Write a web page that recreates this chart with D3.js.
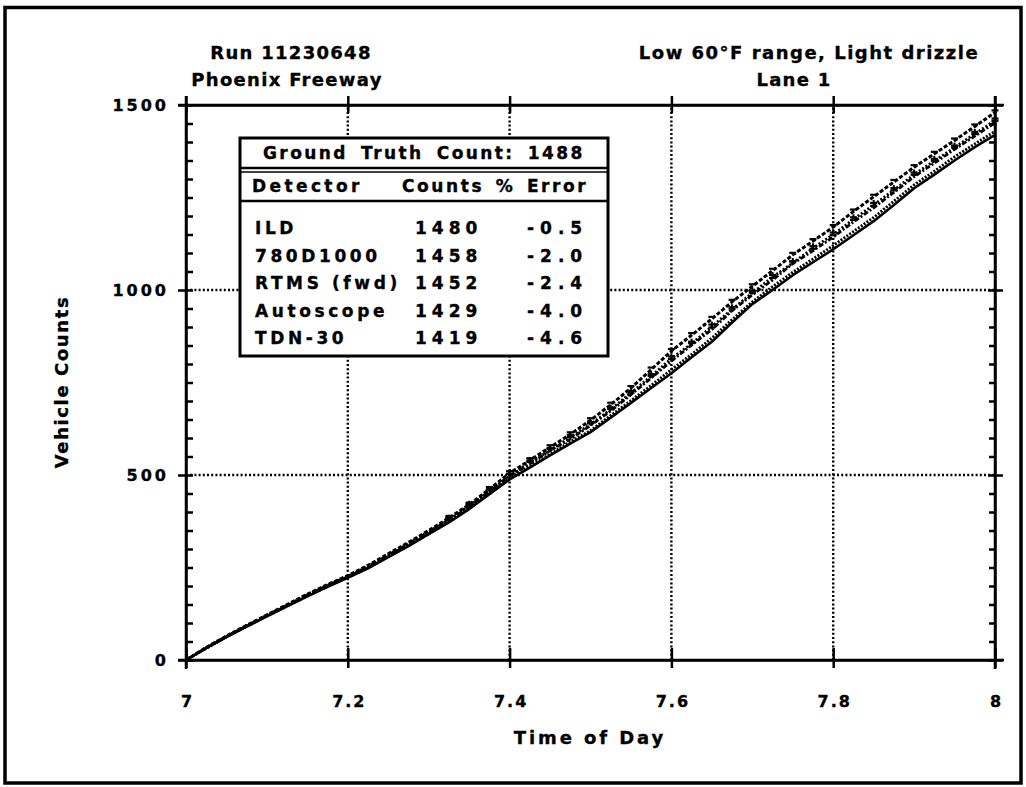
<!DOCTYPE html>
<html><head><meta charset="utf-8">
<script src="https://cdn.jsdelivr.net/npm/d3@7"></script>
<style>
html,body{margin:0;padding:0;background:#fff;}
svg{display:block;}
text{font-family:"DejaVu Sans",Verdana,sans-serif;font-weight:bold;fill:#000;stroke:#000;stroke-width:0.35px;}
</style></head>
<body>
<svg id="chart" width="1026" height="787"></svg>
<script>
// ---------- data ----------
const times = [7.000,7.025,7.050,7.075,7.100,7.125,7.150,7.175,7.200,7.225,7.250,7.275,7.300,7.325,7.350,7.375,7.400,7.425,7.450,7.475,7.500,7.525,7.550,7.575,7.600,7.625,7.650,7.675,7.700,7.725,7.750,7.775,7.800,7.825,7.850,7.875,7.900,7.925,7.950,7.975,8.000];
const ildCounts = [0,34,65,94,122,150,178,204,228,256,287,318,350,384,420,462,505,540,575,610,648,690,735,785,835,878,922,968,1010,1052,1095,1132,1170,1212,1252,1292,1332,1368,1404,1442,1480];
const d780Counts = [0,33,64,92,121,148,176,201,226,253,284,314,347,379,417,456,498,534,566,602,637,677,722,767,815,855,901,948,992,1035,1073,1113,1150,1191,1230,1270,1312,1349,1385,1422,1458];
const rtmsCounts = [0,33,63,93,120,147,175,202,225,252,282,313,345,379,414,455,497,530,566,597,634,673,717,762,808,851,893,944,987,1027,1071,1106,1143,1184,1222,1264,1306,1343,1380,1416,1452];
const autoscopeCounts = [0,31,63,91,119,146,173,199,224,249,279,310,341,374,410,449,491,523,556,590,620,661,701,742,785,826,870,920,968,1009,1048,1084,1120,1158,1196,1240,1284,1321,1360,1395,1429];
const tdnCounts = [0,32,62,90,118,145,172,198,222,248,278,308,340,372,408,448,488,520,553,585,616,655,695,735,775,818,860,912,962,1000,1040,1075,1110,1148,1186,1230,1275,1312,1350,1386,1419];

const detectors = ["ILD","780D1000","RTMS (fwd)","Autoscope","TDN-30"];
const finalCounts = [1480,1458,1452,1429,1419];
const pctErrors = ["-0.5","-2.0","-2.4","-4.0","-4.6"];
const groundTruth = 1488;

const xTicks = [7,7.2,7.4,7.6,7.8,8];
const xTickLabels = ["7","7.2","7.4","7.6","7.8","8"];
const yTicks = [0,500,1000,1500];
const yMinorTicks = [50,100,150,200,250,300,350,400,450,550,600,650,700,750,800,850,900,950,1050,1100,1150,1200,1250,1300,1350,1400,1450];
const titleLeft = ["Run 11230648","Phoenix Freeway"];
const titleRight = ["Low 60°F range, Light drizzle","Lane 1"];
const xTitle = "Time of Day";
const yTitle = "Vehicle Counts";

// ---------- drawing ----------
const svg = d3.select("#chart");
const L = 186, R = 995, T = 105, B = 660;
const x = d3.scaleLinear().domain([7,8]).range([L,R]);
const y = d3.scaleLinear().domain([0,1500]).range([B,T]);

// outer frame
svg.append("rect").attr("x",5).attr("y",7.5).attr("width",1016).attr("height",775.5)
  .attr("fill","none").attr("stroke","#000").attr("stroke-width",3.5);

// grid
const g = svg.append("g");
g.selectAll("line.vg").data(xTicks.slice(1,-1)).enter().append("line")
  .attr("x1",d=>x(d)).attr("x2",d=>x(d)).attr("y1",B).attr("y2",T)
  .attr("stroke","#000").attr("stroke-width",2.4).attr("stroke-dasharray","2,2.2");
g.selectAll("line.hg").data(yTicks.slice(1,-1)).enter().append("line")
  .attr("x1",L).attr("x2",R).attr("y1",d=>y(d)).attr("y2",d=>y(d))
  .attr("stroke","#000").attr("stroke-width",2.4).attr("stroke-dasharray","2,2.2");

// axes
function styleAxis(sel){
  sel.select(".domain").attr("stroke","#000").attr("stroke-width",2.5);
  sel.selectAll(".tick line").attr("stroke","#000").attr("stroke-width",2.5);
}
function styleLabels(sel, size, sp){
  sel.selectAll(".tick text").attr("font-size",size).attr("letter-spacing",sp)
    .attr("font-family","DejaVu Sans").attr("font-weight","bold").attr("fill","#000");
}
const leftMajor = svg.append("g").attr("transform",`translate(${L},0)`)
  .call(d3.axisLeft(y).tickValues(yTicks).tickSizeOuter(0).tickSizeInner(8).tickPadding(9).tickFormat(d3.format("d")));
leftMajor.selectAll(".tick line").attr("x2",-8).attr("x1",7);
styleAxis(leftMajor);
styleLabels(leftMajor, 16, 3);
const leftMinor = svg.append("g").attr("transform",`translate(${L},0)`)
  .call(d3.axisRight(y).tickValues(yMinorTicks).tickSizeOuter(0).tickSizeInner(7).tickFormat(""));
styleAxis(leftMinor); leftMinor.select(".domain").remove();

const rightMajor = svg.append("g").attr("transform",`translate(${R},0)`)
  .call(d3.axisRight(y).tickValues(yTicks).tickSizeOuter(0).tickSizeInner(8).tickFormat(""));
rightMajor.selectAll(".tick line").attr("x1",-7);
styleAxis(rightMajor);
const rightMinor = svg.append("g").attr("transform",`translate(${R},0)`)
  .call(d3.axisLeft(y).tickValues(yMinorTicks).tickSizeOuter(0).tickSizeInner(6).tickFormat(""));
styleAxis(rightMinor); rightMinor.select(".domain").remove();

const bottomAx = svg.append("g").attr("transform",`translate(0,${B})`)
  .call(d3.axisBottom(x).tickValues(xTicks).tickSizeOuter(0).tickSizeInner(8).tickPadding(28)
    .tickFormat((d,i)=>xTickLabels[i]));
bottomAx.selectAll(".tick line").attr("y1",-12);
styleAxis(bottomAx);
styleLabels(bottomAx, 16, 2);
bottomAx.selectAll(".tick text").attr("dx",1);

const topAx = svg.append("g").attr("transform",`translate(0,${T})`)
  .call(d3.axisTop(x).tickValues(xTicks).tickSizeOuter(0).tickSizeInner(9).tickFormat(""));
topAx.selectAll(".tick line").attr("y1",8);
styleAxis(topAx);

// frame lines extended slightly beyond the corners
svg.append("line").attr("x1",L).attr("x2",L).attr("y1",T-9).attr("y2",B+9).attr("stroke","#000").attr("stroke-width",2.5);
svg.append("line").attr("x1",R).attr("x2",R).attr("y1",T-9).attr("y2",B+9).attr("stroke","#000").attr("stroke-width",2.5);
svg.append("line").attr("x1",L-8).attr("x2",R+9).attr("y1",T).attr("y2",T).attr("stroke","#000").attr("stroke-width",2.5);
svg.append("line").attr("x1",L-8).attr("x2",R+9).attr("y1",B).attr("y2",B).attr("stroke","#000").attr("stroke-width",2.5);

// series
const series = [
  {name:"ILD", vals:ildCounts, dash:"4,2", w:3, marker:"dash"},
  {name:"780D1000", vals:d780Counts, dash:"2,2", w:2.8, marker:"plus"},
  {name:"RTMS (fwd)", vals:rtmsCounts, dash:"5,2,2,2", w:2.8, marker:"dash"},
  {name:"Autoscope", vals:autoscopeCounts, dash:"2,1.5", w:2.8, marker:null},
  {name:"TDN-30", vals:tdnCounts, dash:null, w:2.6, marker:null}
];
const line = d3.line().x((d,i)=>x(times[i])).y(d=>y(d));
const sg = svg.append("g");
sg.selectAll("path").data(series).enter().append("path")
  .attr("d",s=>line(s.vals)).attr("fill","none").attr("stroke","#000")
  .attr("stroke-width",s=>s.w).attr("stroke-dasharray",s=>s.dash)
  .attr("stroke-linejoin","round");
series.filter(s=>s.marker).forEach(s=>{
  const pts = s.vals.map((v,i)=>[x(times[i]),y(v)]).filter((p,i)=>i>12);
  const mg = sg.append("g");
  mg.selectAll("line.h").data(pts).enter().append("line")
    .attr("x1",p=>p[0]-3.5).attr("x2",p=>p[0]+3.5).attr("y1",p=>p[1]-2).attr("y2",p=>p[1]-2)
    .attr("stroke","#000").attr("stroke-width",2.2);
  if(s.marker==="plus"){
    mg.selectAll("line.v").data(pts).enter().append("line")
      .attr("x1",p=>p[0]).attr("x2",p=>p[0]).attr("y1",p=>p[1]-5).attr("y2",p=>p[1]+1)
      .attr("stroke","#000").attr("stroke-width",2);
  }
});

// titles
const tFont = 18, tSp = 1.3;
svg.append("text").attr("x",291).attr("y",59).attr("text-anchor","middle").attr("font-size",tFont).attr("letter-spacing",tSp).text(titleLeft[0]);
svg.append("text").attr("x",287).attr("y",86).attr("text-anchor","middle").attr("font-size",tFont).attr("letter-spacing",tSp).text(titleLeft[1]);
svg.append("text").attr("x",809).attr("y",59).attr("text-anchor","middle").attr("font-size",tFont).attr("letter-spacing",1.5).text(titleRight[0]);
svg.append("text").attr("x",794).attr("y",86).attr("text-anchor","middle").attr("font-size",tFont).attr("letter-spacing",tSp).text(titleRight[1]);

svg.append("text").attr("x",590).attr("y",744).attr("text-anchor","middle").attr("font-size",18).attr("letter-spacing",2.9).text(xTitle);
svg.append("text").attr("transform","translate(68,382) rotate(-90)").attr("text-anchor","middle").attr("font-size",18).attr("letter-spacing",1.6).text(yTitle);

// table
const tb = svg.append("g");
const tx0 = 240, tx1 = 608, ty0 = 138, ty1 = 356;
tb.append("rect").attr("x",tx0).attr("y",ty0).attr("width",tx1-tx0).attr("height",ty1-ty0)
  .attr("fill","#fff").attr("stroke","#000").attr("stroke-width",3);
tb.append("line").attr("x1",tx0).attr("x2",tx1).attr("y1",168).attr("y2",168).attr("stroke","#000").attr("stroke-width",2.5);
tb.append("line").attr("x1",tx0).attr("x2",tx1).attr("y1",172).attr("y2",172).attr("stroke","#000").attr("stroke-width",1.5);
tb.append("line").attr("x1",tx0).attr("x2",tx1).attr("y1",201).attr("y2",201).attr("stroke","#000").attr("stroke-width",2.5);
tb.append("text").attr("x",263).attr("y",159).attr("font-size",17).attr("letter-spacing",2.4).attr("word-spacing",5)
  .text("Ground Truth Count: " + groundTruth);
tb.append("text").attr("x",252).attr("y",192).attr("font-size",17).attr("letter-spacing",3.4).text("Detector");
tb.append("text").attr("x",402).attr("y",192).attr("font-size",17).attr("letter-spacing",2.6).attr("word-spacing",3).text("Counts % Error");
const rowY = d3.scaleLinear().domain([0,4]).range([234,344]);
tb.selectAll("text.det").data(detectors).enter().append("text")
  .attr("x",255).attr("y",(d,i)=>rowY(i)).attr("font-size",17).attr("letter-spacing",3.6).text(d=>d);
tb.selectAll("text.cnt").data(finalCounts).enter().append("text")
  .attr("x",415).attr("y",(d,i)=>rowY(i)).attr("font-size",17).attr("letter-spacing",5).text(d=>d);
tb.selectAll("text.err").data(pctErrors).enter().append("text")
  .attr("x",527).attr("y",(d,i)=>rowY(i)).attr("font-size",17).attr("letter-spacing",6).text(d=>d);
</script>
</body></html>
